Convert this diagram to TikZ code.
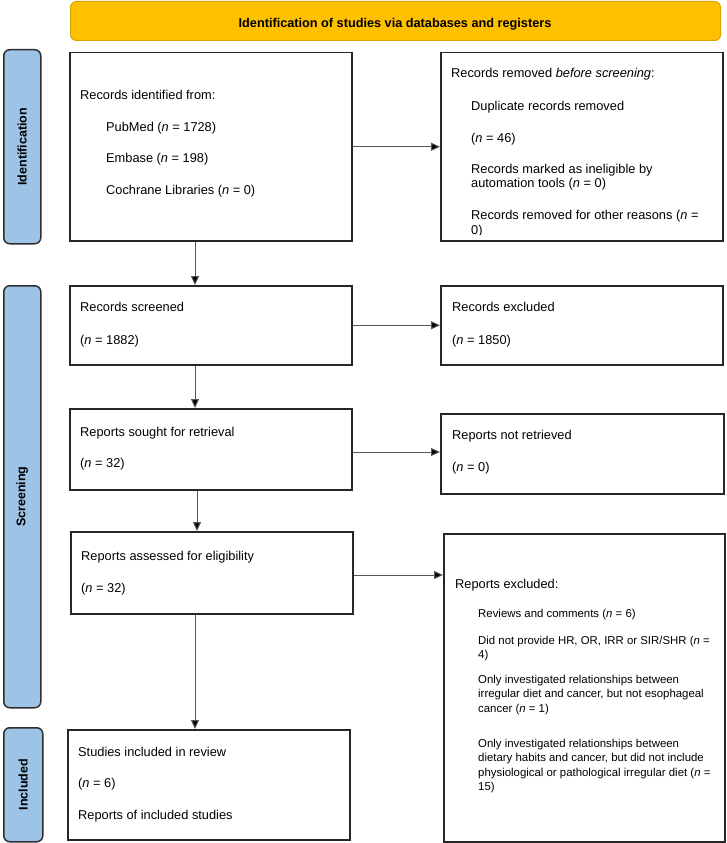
\documentclass[tikz,border=0pt]{standalone}
\usepackage{fontspec}
\setmainfont{Liberation Sans}
\usetikzlibrary{arrows.meta}
\definecolor{orangefill}{HTML}{FFC000}
\definecolor{orangeline}{HTML}{D9A300}
\definecolor{bluefill}{HTML}{9DC3E6}
\definecolor{blueline}{HTML}{2F2F2F}
\definecolor{arrowgray}{HTML}{555555}
\newcommand{\mytxt}[4]{\node[txt] (#1) at (#2,#3) {#4};}
\newcommand{\mysub}[4]{\node[subtxt] (#1) at (#2,#3) {#4};}
\newcommand{\nn}{\textit{n}}
\begin{document}
\begin{tikzpicture}[x=1pt,y=-1pt,
  box/.style={draw=black!85, line width=1.5pt, fill=white, inner sep=0pt, anchor=north west},
  phase/.style={draw=blueline, line width=1.5pt, fill=bluefill, rounded corners=6pt, inner sep=0pt, anchor=north west},
  banner/.style={draw=orangeline, line width=1pt, fill=orangefill, rounded corners=6pt, inner sep=0pt, anchor=north west},
  phasetxt/.style={font=\fontsize{12.5}{15}\selectfont\bfseries, rotate=90, inner sep=0pt},
  txt/.style={font=\fontsize{12.8}{15}\selectfont, anchor=base west, inner sep=0pt},
  subtxt/.style={font=\fontsize{11.4}{14}\selectfont, anchor=base west, inner sep=0pt},
  arr/.style={draw=arrowgray, line width=1pt, -{Triangle[length=9pt,width=8pt,fill=black]}}]
\useasboundingbox (0,0) rectangle (726,843);

% banner and phase labels
\node[banner, minimum width=650pt, minimum height=39pt] (title) at (70,1) {};
\node[font=\fontsize{12.7}{15}\selectfont\bfseries, inner sep=0pt] (titletxt) at (395,24) {Identification of studies via databases and registers};
\node[phase, minimum width=37pt, minimum height=194pt] (lid) at (3,49) {};
\node[phasetxt] (lidtxt) at (lid.center) {Identification};
\node[phase, minimum width=37pt, minimum height=422pt] (lsc) at (3,285) {};
\node[phasetxt] (lsctxt) at (lsc.center) {Screening};
\node[phase, minimum width=39pt, minimum height=114pt] (lin) at (3,727) {};
\node[phasetxt] (lintxt) at (lin.center) {Included};

% boxes
\node[box, minimum width=282pt, minimum height=188pt] (b1) at (69,52) {};
\node[box, minimum width=282pt, minimum height=188pt] (b2) at (440,52) {};
\node[box, minimum width=282pt, minimum height=79pt] (scr) at (69,285) {};
\node[box, minimum width=282pt, minimum height=79pt] (exc) at (440,285) {};
\node[box, minimum width=282pt, minimum height=81pt] (sgt) at (69,408) {};
\node[box, minimum width=283pt, minimum height=80pt] (nrt) at (440,413) {};
\node[box, minimum width=282pt, minimum height=82pt] (asd) at (70,531) {};
\node[box, minimum width=281pt, minimum height=308pt] (rex) at (443,533) {};
\node[box, minimum width=282pt, minimum height=110pt] (inc) at (67,729) {};

% box 1
\mytxt{t1a}{80}{99.6}{Records identified from:}
\mytxt{t1b}{106}{131.6}{PubMed (\nn{} = 1728)}
\mytxt{t1c}{106}{162.6}{Embase (\nn{} = 198)}
\mytxt{t1d}{106}{194.6}{Cochrane Libraries (\nn{} = 0)}

% box 2 (clipped)
\begin{scope}
\clip (441,53) rectangle (721,234);
\mytxt{t2a}{451}{77.6}{Records removed \textit{before screening}:}
\mytxt{t2b}{471}{110.6}{Duplicate records removed}
\mytxt{t2c}{471}{142.6}{(\nn{} = 46)}
\mytxt{t2d}{471}{173.6}{Records marked as ineligible by}
\mytxt{t2e}{471}{187.6}{automation tools (\nn{} = 0)}
\mytxt{t2f}{471}{219.6}{Records removed for other reasons (\nn{} =}
\mytxt{t2g}{471}{234.6}{0)}
\end{scope}

% screening boxes
\mytxt{t3a}{80}{311.6}{Records screened}
\mytxt{t3b}{80}{344.6}{(\nn{} = 1882)}
\mytxt{t4a}{452}{311.6}{Records excluded}
\mytxt{t4b}{452}{344.6}{(\nn{} = 1850)}
\mytxt{t5a}{80}{436.6}{Reports sought for retrieval}
\mytxt{t5b}{80}{467.6}{(\nn{} = 32)}
\mytxt{t6a}{452}{439.6}{Reports not retrieved}
\mytxt{t6b}{452}{471.6}{(\nn{} = 0)}
\mytxt{t7a}{81}{560.6}{Reports assessed for eligibility}
\mytxt{t7b}{81}{592.6}{(\nn{} = 32)}

% reports excluded
\mytxt{t8a}{455}{588.6}{Reports excluded:}
\mysub{t8b}{478}{617}{Reviews and comments (\nn{} = 6)}
\mysub{t8c}{478}{644}{Did not provide HR, OR, IRR or SIR/SHR (\nn{} =}
\mysub{t8d}{478}{658.5}{4)}
\mysub{t8e}{478}{683}{Only investigated relationships between}
\mysub{t8f}{478}{697.5}{irregular diet and cancer, but not esophageal}
\mysub{t8g}{478}{712}{cancer (\nn{} = 1)}
\mysub{t8h}{478}{747}{Only investigated relationships between}
\mysub{t8i}{478}{761.5}{dietary habits and cancer, but did not include}
\mysub{t8j}{478}{776}{physiological or pathological irregular diet (\nn{} =}
\mysub{t8k}{478}{790.5}{15)}

% included
\mytxt{t9a}{78}{756.6}{Studies included in review}
\mytxt{t9b}{78}{787.6}{(\nn{} = 6)}
\mytxt{t9c}{78}{819.6}{Reports of included studies}

% connectors
\coordinate (ax1) at (195,0);
\coordinate (ax2) at (197,0);
\coordinate (ay3) at (0,452);
\coordinate (ay4) at (0,575);
\draw[arr] (ax1 |- b1.south) -- (ax1 |- scr.north);
\draw[arr] (ax1 |- scr.south) -- (ax1 |- sgt.north);
\draw[arr] (ax2 |- sgt.south) -- (ax2 |- asd.north);
\draw[arr] (ax1 |- asd.south) -- (ax1 |- inc.north);
\draw[arr] (b1.east) -- (b1.east -| b2.west);
\draw[arr] (scr.east) -- (scr.east -| exc.west);
\draw[arr] (ay3 -| sgt.east) -- (ay3 -| nrt.west);
\draw[arr] (ay4 -| asd.east) -- (ay4 -| rex.west);
\end{tikzpicture}
\end{document}
